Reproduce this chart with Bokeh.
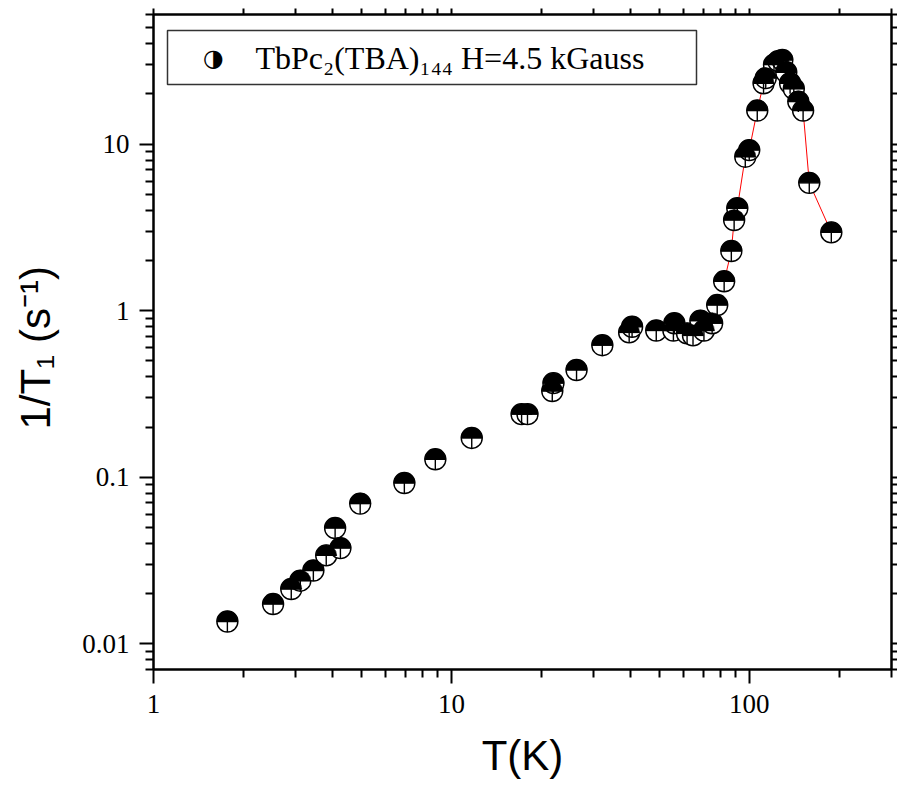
import numpy as np
from bokeh.plotting import figure
from bokeh.models import (LogAxis, FixedTicker, CustomJSTickFormatter, Range1d,
                          BoxAnnotation, Label)
from bokeh.embed import file_html
from bokeh.resources import INLINE

# ---- data ----
T_K = [1.77, 2.52, 2.90, 3.11, 3.44, 3.80, 4.07, 4.24, 4.94, 6.95, 8.83, 11.7,
       17.2, 18.0, 21.8, 22.0, 26.3, 32.1, 39.5, 40.4, 48.7, 55.6, 56.0, 61.8,
       64.7, 68.5, 70.4, 75.0, 78.0, 82.3, 87.0, 88.9, 91.1, 96.9, 99.9, 106.3,
       111.6, 113.5, 121.0, 125.0, 129.0, 133.0, 137.0, 141.0, 146.0, 151.5,
       158.9, 188.4]
inv_T1 = [0.0136, 0.0173, 0.0213, 0.0239, 0.0275, 0.0339, 0.0495, 0.0375,
          0.0694, 0.0922, 0.128, 0.172, 0.239, 0.239, 0.329, 0.367, 0.44, 0.62,
          0.74, 0.80, 0.76, 0.76, 0.84, 0.73, 0.71, 0.87, 0.76, 0.84, 1.08,
          1.50, 2.28, 3.5, 4.12, 8.4, 9.2, 15.9, 23.2, 24.9, 30.0, 31.5, 32.0,
          27.0, 23.2, 21.5, 18.0, 15.9, 5.85, 2.95]
guide_from_T = 82.0           # red guide line drawn through points with T >= this
x_major = [1, 10, 100]
y_major = [0.01, 0.1, 1, 10]
legend_text = "TbPc₂(TBA)₁₄₄ H=4.5 kGauss"
legend_symbol = "◑"
x_title = "T(K)"
y_title = "1/T₁  (s⁻¹)"

T_arr = np.array(T_K)
Y_arr = np.array(inv_T1)

x_minor = [m * d for d in (1, 10, 100) for m in range(2, 10) if m * d <= 300]
y_minor = [m * d for d in (0.001, 0.01, 0.1, 1, 10) for m in range(2, 10)
           if 0.007 <= m * d <= 60]

p = figure(width=897, height=785, x_axis_type="log", y_axis_type="log",
           x_range=Range1d(1, 300), y_range=Range1d(0.007, 60),
           output_backend="svg", toolbar_location=None,
           min_border_left=153, min_border_right=6, min_border_top=14,
           min_border_bottom=116, background_fill_color="white",
           border_fill_color="white")
p.grid.visible = False
p.outline_line_color = "black"
p.outline_line_width = 2

fmt = CustomJSTickFormatter(code="return String(tick);")
blank = CustomJSTickFormatter(code="return '';")

for ax, majors, minors in ((p.xaxis[0], x_major, x_minor), (p.yaxis[0], y_major, y_minor)):
    ax.ticker = FixedTicker(ticks=majors, minor_ticks=minors)
    ax.formatter = fmt
    ax.major_tick_out = 14
    ax.major_tick_in = 0
    ax.minor_tick_out = 8
    ax.minor_tick_in = 0
    ax.axis_line_width = 2
    ax.major_tick_line_width = 2
    ax.minor_tick_line_width = 2
    ax.major_label_text_font = "Liberation Serif"
    ax.major_label_text_font_size = "27px"
    ax.major_label_text_color = "black"
    ax.axis_label_text_font = "Liberation Sans"
    ax.axis_label_text_font_size = "42px"
    ax.axis_label_text_font_style = "normal"
    ax.axis_label_text_color = "black"

p.xaxis.major_label_standoff = 11
p.yaxis.major_label_standoff = 10
p.xaxis.axis_label = x_title
p.yaxis.axis_label = y_title
p.xaxis.axis_label_standoff = 16
p.yaxis.axis_label_standoff = 20

top = LogAxis(ticker=FixedTicker(ticks=x_major, minor_ticks=x_minor), formatter=blank)
right = LogAxis(ticker=FixedTicker(ticks=y_major, minor_ticks=y_minor), formatter=blank)
for ax in (top, right):
    ax.major_tick_out = 6
    ax.major_tick_in = 0
    ax.minor_tick_out = 6
    ax.minor_tick_in = 0
    ax.axis_line_width = 2
    ax.major_tick_line_width = 2
    ax.minor_tick_line_width = 2
    ax.major_label_standoff = 0
    ax.major_label_text_font_size = "0px"
p.add_layout(top, "above")
p.add_layout(right, "right")

# red guide line through the peak region
mask = T_arr >= guide_from_T
p.line(T_arr[mask], Y_arr[mask], line_color="#ff0000", line_width=1)

# markers: white circle, vertical stem, black top half, horizontal bar
p.scatter(T_arr, Y_arr, marker="circle", size=21, fill_color="white",
          line_color="black", line_width=1.4)
p.scatter(T_arr, Y_arr, marker="dash", angle=np.pi / 2, size=21,
          line_color="black", line_width=1.4)
p.wedge(T_arr, Y_arr, radius=10.5, radius_units="screen", start_angle=0,
        end_angle=np.pi, direction="anticlock", fill_color="black",
        line_color="black", line_width=0.5)
p.scatter(T_arr, Y_arr, marker="dash", size=21, line_color="black", line_width=1.4)

# legend box
box = BoxAnnotation(left=14, right=543, top=639, bottom=585,
                    left_units="screen", right_units="screen",
                    top_units="screen", bottom_units="screen",
                    fill_color="white", fill_alpha=1.0,
                    line_color="#333333", line_width=1.5, line_alpha=1.0)
p.add_layout(box)
p.add_layout(Label(x=60, y=612, x_units="screen", y_units="screen",
                   text=legend_symbol, text_font="DejaVu Sans",
                   text_font_size="24px", text_align="center",
                   text_baseline="middle", text_color="black"))
p.add_layout(Label(x=102, y=612, x_units="screen", y_units="screen",
                   text=legend_text, text_font="Liberation Serif",
                   text_font_size="32px", text_align="left",
                   text_baseline="middle", text_color="black"))

open("out.html", "w").write(file_html(p, INLINE))
